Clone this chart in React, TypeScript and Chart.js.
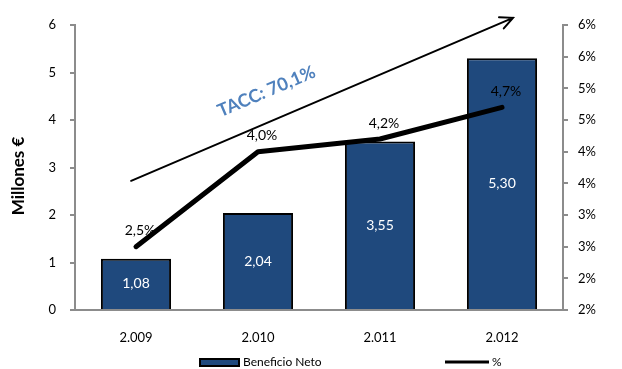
import React, { useEffect, useRef } from "react";
import { Chart, registerables } from "chart.js";
Chart.register(...registerables);

const categories = ["2.009", "2.010", "2.011", "2.012"];
const beneficioNeto = [1.08, 2.04, 3.55, 5.3];
const porcentaje = [2.5, 4.0, 4.2, 4.7];
const barLabels = ["1,08", "2,04", "3,55", "5,30"];
const pctLabels = ["2,5%", "4,0%", "4,2%", "4,7%"];
const seriesNames = ["Beneficio Neto", "%"];
const axisTitle = "Millones €";
const taccText = "TACC: 70,1%";
// annotation arrow in data terms: [category index, left-axis value]
const arrowFrom = [-0.04, 2.72];
const arrowTo = [3.09, 6.15];
const taccAt = [1.07, 4.6];

const FONT = "Lato, Carlito, Calibri, 'Open Sans', sans-serif";
const BAR_COLOR = "#1F497D";
const AXIS_COLOR = "#8C8C8C";
const TACC_COLOR = "#4F81BD";

export default function App() {
  const ref = useRef<HTMLCanvasElement | null>(null);
  useEffect(() => {
    document.body.style.margin = "0";
    const canvas = ref.current!;
    const xPix = (chart: any, v: number) => {
      const x = chart.scales.x;
      const p0 = x.getPixelForValue(0);
      const p1 = x.getPixelForValue(1);
      return p0 + (p1 - p0) * v;
    };
    const overlay = {
      id: "overlay",
      beforeDatasetDraw(chart: any, args: any) {
        if (args.index !== 1) return;
        const ctx = chart.ctx;
        ctx.save();
        ctx.textAlign = "center";
        ctx.textBaseline = "middle";
        ctx.font = `14px ${FONT}`;
        ctx.fillStyle = "#FFFFFF";
        chart.getDatasetMeta(0).data.forEach((el: any, i: number) => {
          ctx.fillText(barLabels[i], el.x, (el.y + el.base) / 2);
        });
        ctx.fillStyle = "#000000";
        chart.getDatasetMeta(1).data.forEach((el: any, i: number) => {
          ctx.fillText(pctLabels[i], el.x + 4, el.y - 16);
        });
        ctx.restore();
      },
      afterDraw(chart: any) {
        const ctx = chart.ctx;
        const y = chart.scales.y;
        // arrow
        const x1 = xPix(chart, arrowFrom[0]);
        const y1 = y.getPixelForValue(arrowFrom[1]);
        const x2 = xPix(chart, arrowTo[0]);
        const y2 = y.getPixelForValue(arrowTo[1]);
        ctx.save();
        ctx.strokeStyle = "#000";
        ctx.lineWidth = 2;
        ctx.lineCap = "round";
        ctx.beginPath();
        ctx.moveTo(x1, y1);
        ctx.lineTo(x2, y2);
        const ang = Math.atan2(y2 - y1, x2 - x1);
        const hl = 14;
        ctx.moveTo(x2 - hl * Math.cos(ang - 0.45), y2 - hl * Math.sin(ang - 0.45));
        ctx.lineTo(x2, y2);
        ctx.lineTo(x2 - hl * Math.cos(ang + 0.45), y2 - hl * Math.sin(ang + 0.45));
        ctx.stroke();
        // TACC text
        ctx.translate(xPix(chart, taccAt[0]), y.getPixelForValue(taccAt[1]));
        ctx.rotate(ang);
        ctx.font = `bold 18px ${FONT}`;
        ctx.fillStyle = TACC_COLOR;
        ctx.textAlign = "center";
        ctx.textBaseline = "middle";
        ctx.fillText(taccText, 0, 0);
        ctx.restore();
        // axis title
        ctx.save();
        ctx.translate(19, 176);
        ctx.rotate(-Math.PI / 2);
        ctx.font = `bold 17px ${FONT}`;
        ctx.fillStyle = "#000";
        ctx.textAlign = "center";
        ctx.textBaseline = "middle";
        ctx.fillText(axisTitle, 0, 0);
        ctx.restore();
        // legend
        ctx.save();
        const ly = 362;
        ctx.fillStyle = BAR_COLOR;
        ctx.fillRect(200, ly - 3, 39, 7);
        ctx.strokeStyle = "#000";
        ctx.lineWidth = 2;
        ctx.strokeRect(200, ly - 3, 39, 7);
        ctx.font = `12px ${FONT}`;
        ctx.fillStyle = "#000";
        ctx.textBaseline = "middle";
        ctx.textAlign = "left";
        ctx.fillText(seriesNames[0], 243, ly);
        ctx.lineWidth = 3;
        ctx.beginPath();
        ctx.moveTo(445, ly);
        ctx.lineTo(489, ly);
        ctx.stroke();
        ctx.fillText(seriesNames[1], 492, ly);
        ctx.restore();
      },
    };
    const chart = new Chart(canvas, {
      type: "bar",
      data: {
        labels: categories,
        datasets: [
          {
            type: "bar",
            label: seriesNames[0],
            data: beneficioNeto,
            backgroundColor: BAR_COLOR,
            borderColor: "#000",
            borderWidth: 2,
            barPercentage: 0.575,
            categoryPercentage: 1,
            yAxisID: "y",
            order: 2,
          },
          {
            type: "line",
            label: seriesNames[1],
            data: porcentaje,
            borderColor: "#000",
            borderWidth: 5,
            pointRadius: 0,
            tension: 0,
            borderCapStyle: "round",
            borderJoinStyle: "round",
            yAxisID: "y1",
            order: 1,
          } as any,
        ],
      },
      options: {
        animation: false,
        responsive: false,
        devicePixelRatio: 1,
        layout: { padding: { top: 25, left: 0, right: 0, bottom: 0 } },
        plugins: { legend: { display: false }, tooltip: { enabled: false } },
        scales: {
          x: {
            grid: { display: false, drawTicks: false },
            border: { color: AXIS_COLOR, width: 2 },
            ticks: { color: "#000", font: { family: FONT, size: 13 }, padding: 20 },
            afterFit: (s: any) => { s.height = 59; },
          },
          y: {
            position: "left",
            min: 0,
            max: 6,
            ticks: { stepSize: 1, color: "#000", font: { family: FONT, size: 13 }, padding: 14 },
            grid: { drawOnChartArea: false, tickLength: 5, color: AXIS_COLOR, lineWidth: 2 },
            border: { color: AXIS_COLOR, width: 2 },
            afterFit: (s: any) => { s.width = 75; },
          },
          y1: {
            position: "right",
            min: 1.5,
            max: 6,
            ticks: { stepSize: 0.5, color: "#000", font: { family: FONT, size: 13 }, padding: 10, callback: (v: any) => Math.round(Number(v)) + "%" },
            grid: { drawOnChartArea: false, tickLength: 5, color: AXIS_COLOR, lineWidth: 2 },
            border: { color: AXIS_COLOR, width: 2 },
            afterFit: (s: any) => { s.width = 59; },
          },
        },
      },
      plugins: [overlay],
    });
    return () => chart.destroy();
  }, []);
  return (
    <div style={{ position: "fixed", left: 0, top: 0, width: 622, height: 369, background: "#fff" }}>
      <canvas ref={ref} width={622} height={369} />
    </div>
  );
}
